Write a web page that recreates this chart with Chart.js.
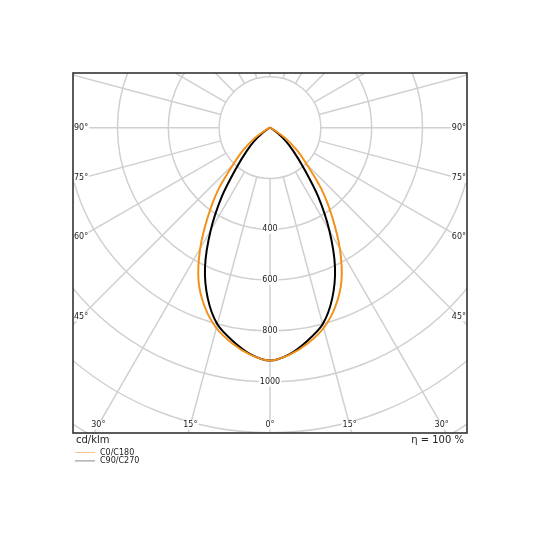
<!DOCTYPE html>
<html>
<head>
<meta charset="utf-8">
<script src="https://cdn.jsdelivr.net/npm/chart.js@4.4.0/dist/chart.umd.min.js"></script>
<style>
  html, body { margin: 0; padding: 0; background: #fff; }
  canvas { display: block; }
</style>
</head>
<body>
<canvas id="ldc" width="540" height="540"></canvas>
<script>
// gamma angles (deg from nadir) and intensities in cd/klm
const angles = [0, 5, 10, 15, 20, 25, 30, 35, 40, 45, 50, 55, 60, 65, 70, 75, 80, 85, 90];
const c0c180 = [915, 895, 860, 815, 750, 665, 550, 425, 315, 205, 140, 80, 25, 6, 2, 0, 0, 0, 0];
const c90c270 = [915, 893, 850, 800, 715, 605, 467, 330, 205, 130, 78, 35, 9, 2, 0, 0, 0, 0, 0];

const rings = [200, 400, 600, 800, 1000, 1200, 1400, 1600];
const ringLabels = [400, 600, 800, 1000];
const spokes = [0, 15, 30, 45, 60, 75, 90, 105, 120, 135, 150, 165, 180];
const sideLabels = [45, 60, 75, 90];
const bottomLabels = [0, 15, 30];

const seriesNames = ["C0/C180", "C90/C270"];
const seriesColors = ["#f39019", "#000000"];
const legendColors = ["#f8c88a", "#888888"];

// polar values -> x/y in cd/klm, mirrored for both half planes
function toPoints(vals) {
  const pts = [];
  for (let i = angles.length - 1; i >= 0; i--) {
    const a = angles[i] * Math.PI / 180;
    pts.push({ x: -vals[i] * Math.sin(a), y: -vals[i] * Math.cos(a) });
  }
  for (let i = 1; i < angles.length; i++) {
    const a = angles[i] * Math.PI / 180;
    pts.push({ x: vals[i] * Math.sin(a), y: -vals[i] * Math.cos(a) });
  }
  return pts;
}

const polarGrid = {
  id: "polarGrid",
  beforeDatasetsDraw(chart) {
    const { ctx, chartArea: ca, scales } = chart;
    const sx = scales.x, sy = scales.y;
    const cx = sx.getPixelForValue(0), cy = sy.getPixelForValue(0);
    const k = sx.getPixelForValue(100) - cx;
    const pr = (v) => v * k / 100;

    ctx.save();
    ctx.beginPath();
    ctx.rect(ca.left, ca.top, ca.right - ca.left, ca.bottom - ca.top);
    ctx.clip();
    ctx.strokeStyle = "#d0d0d0";
    ctx.lineWidth = 1.5;
    rings.forEach(r => {
      ctx.beginPath();
      ctx.arc(cx, cy, pr(r), 0, Math.PI * 2);
      ctx.stroke();
    });
    const big = Math.max(ca.right - ca.left, ca.bottom - ca.top) * 3;
    [-1, 1].forEach(s => {
      spokes.forEach(g => {
        if (s < 0 && (g === 0 || g === 180)) return;
        const a = g * Math.PI / 180;
        const dx = s * Math.sin(a), dy = Math.cos(a);
        ctx.beginPath();
        ctx.moveTo(cx + dx * pr(rings[0]), cy + dy * pr(rings[0]));
        ctx.lineTo(cx + dx * big, cy + dy * big);
        ctx.stroke();
      });
    });

    ctx.font = "8px 'DejaVu Sans'";
    ctx.textBaseline = "middle";
    const tag = (txt, x, y, align) => {
      const w = ctx.measureText(txt).width;
      let x0 = x;
      if (align === "center") x0 = x - w / 2;
      if (align === "right") x0 = x - w;
      ctx.fillStyle = "#fff";
      ctx.fillRect(x0 - 1, y - 4.5, w + 2, 9);
      ctx.fillStyle = "#222";
      ctx.textAlign = "left";
      ctx.fillText(txt, x0, y);
    };
    ringLabels.forEach(r => tag(String(r), cx, cy + pr(r), "center"));

    sideLabels.forEach(g => {
      const a = g * Math.PI / 180;
      const off = (ca.right - ca.left) / 2 - 8;
      const y = cy + off * Math.cos(a) / Math.sin(a);
      tag(g + "°", ca.left + 1, y, "left");
      tag(g + "°", ca.right - 1, y, "right");
    });
    bottomLabels.forEach(g => {
      const a = g * Math.PI / 180;
      const yy = ca.bottom - 8;
      const off = (yy - cy) * Math.tan(a);
      tag(g + "°", cx - off, yy, "center");
      if (g !== 0) tag(g + "°", cx + off, yy, "center");
    });
    ctx.restore();
  },
  afterDraw(chart) {
    const { ctx, chartArea: ca } = chart;
    ctx.save();
    ctx.strokeStyle = "#333";
    ctx.lineWidth = 1.6;
    ctx.strokeRect(ca.left, ca.top, ca.right - ca.left, ca.bottom - ca.top);

    ctx.fillStyle = "#222";
    ctx.font = "10px 'DejaVu Sans'";
    ctx.textBaseline = "middle";
    ctx.textAlign = "left";
    ctx.fillText("cd/klm", ca.left + 3, ca.bottom + 7);
    ctx.textAlign = "right";
    ctx.fillText("η = 100 %", ca.right - 3, ca.bottom + 7);

    ctx.font = "8px 'DejaVu Sans'";
    ctx.textAlign = "left";
    seriesNames.forEach((name, i) => {
      const y = ca.bottom + 19.5 + i * 8.4;
      ctx.strokeStyle = legendColors[i];
      ctx.lineWidth = 1;
      ctx.beginPath();
      ctx.moveTo(ca.left + 2, y);
      ctx.lineTo(ca.left + 22, y);
      ctx.stroke();
      ctx.fillStyle = "#222";
      ctx.fillText(name, ca.left + 27, y);
    });
    ctx.restore();
  }
};

new Chart(document.getElementById("ldc").getContext("2d"), {
  type: "scatter",
  data: {
    datasets: [
      {
        label: seriesNames[0],
        data: toPoints(c0c180),
        showLine: true,
        borderColor: seriesColors[0],
        borderWidth: 2,
        pointRadius: 0,
        tension: 0.3,
      },
      {
        label: seriesNames[1],
        data: toPoints(c90c270),
        showLine: true,
        borderColor: seriesColors[1],
        borderWidth: 2,
        pointRadius: 0,
        tension: 0.3,
      },
    ],
  },
  options: {
    responsive: false,
    animation: false,
    layout: { padding: { left: 73, right: 73, top: 73, bottom: 107 } },
    scales: {
      x: { type: "linear", min: -775, max: 775, display: false },
      y: { type: "linear", min: -1200, max: 215, display: false },
    },
    plugins: {
      legend: { display: false },
      tooltip: { enabled: false },
    },
  },
  plugins: [polarGrid],
});
</script>
</body>
</html>
